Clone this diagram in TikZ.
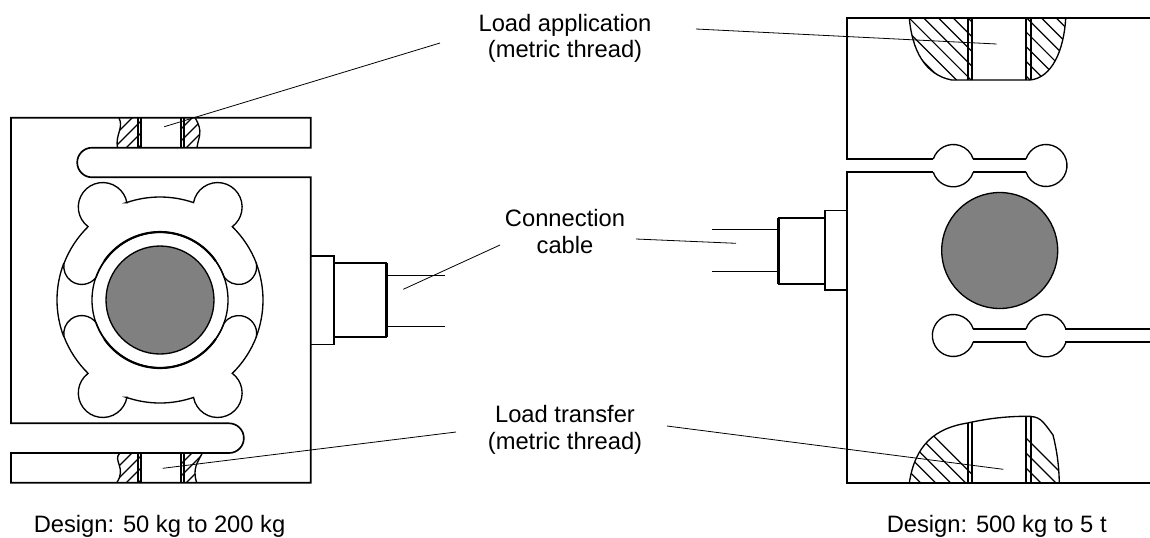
\documentclass[tikz,border=0pt]{standalone}
\usepackage{fontspec}
\setmainfont{Liberation Sans}
\tikzset{
	outline/.style={line width=1.25pt,line join=miter},
	thinline/.style={line width=1pt},
	hatchline/.style={line width=0.9pt},
	leader/.style={line width=0.6pt},
	caption/.style={align=center,inner sep=0pt,font=\fontsize{17.8}{20}\selectfont},
	core/.style={fill=black!50,draw=black,line width=1pt}
}
\begin{document}
\begin{tikzpicture}[x=0.75pt,y=-0.75pt]
	\useasboundingbox (0,0) rectangle (1150,537);

	% left body
	\draw[outline] (11,117.7) -- (310.7,117.7) -- (310.7,147.7) -- (92,147.7)
		arc (270:90:14.8) -- (310.7,177.3) -- (310.7,482.7) -- (11,482.7) -- (11,453)
		-- (229,453) arc (90:-90:14.85) -- (11,423.3) -- cycle;

	% left threads
	\begin{scope}
		\clip (119,117.7) .. controls (124,128) and (115,135) .. (117.5,147.7) -- (141.3,147.7) -- (141.3,117.7) -- cycle;
		\foreach \h in {100,112,...,190} \draw[hatchline] (\h,150) -- ++(40,-40);
	\end{scope}
	\begin{scope}
		\clip (195,117.7) .. controls (204,132) and (198,138) .. (197,147.7) -- (181,147.7) -- (181,117.7) -- cycle;
		\foreach \h in {148,160,...,220} \draw[hatchline] (\h,150) -- ++(40,-40);
	\end{scope}
	\begin{scope}
		\clip (120,453) .. controls (112,460) and (127,468) .. (116.7,482.7) -- (141.3,482.7) -- (141.3,453) -- cycle;
		\foreach \h in {100,112,...,190} \draw[hatchline] (\h,485) -- ++(40,-40);
	\end{scope}
	\begin{scope}
		\clip (202.3,453) .. controls (198,462) and (192,468) .. (196.7,482.7) -- (181,482.7) -- (181,453) -- cycle;
		\foreach \h in {148,160,...,220} \draw[hatchline] (\h,485) -- ++(40,-40);
	\end{scope}
	\draw[thinline] (119,117.7) .. controls (124,128) and (115,135) .. (117.5,147.7);
	\draw[thinline] (195,117.7) .. controls (204,132) and (198,138) .. (197,147.7);
	\draw[thinline] (120,453) .. controls (112,460) and (127,468) .. (116.7,482.7);
	\draw[thinline] (202.3,453) .. controls (198,462) and (192,468) .. (196.7,482.7);
	\foreach \p in {137.7,141.3,181,184.3} {
		\draw[outline] (\p,117.7) -- (\p,147.7);
		\draw[outline] (\p,453) -- (\p,482.7);
	}

	% left spring element
	\foreach \s in {1,-1} {
		\begin{scope}[shift={(160,300)},yscale=\s]
			\draw[thinline] (251:103) arc (251:289:103) arc (190.4:413.2:24.5) arc (314.4:339:103)
				arc (-10:144:18) arc (340:200:68) arc (36:190:18) arc (201:225.6:103)
				arc (126.8:349.6:24.5) -- cycle;
			\draw[line width=1.6pt] (215:68) arc (215:325:68);
		\end{scope}
	}
	\draw[thinline] (160,300) +(159:103) arc (159:201:103);
	\draw[thinline] (160,300) +(-21:103) arc (-21:21:103);
	\draw[thinline] (160,300) circle (68);
	\draw[core] (160,300) circle (54);

	% left connector
	\draw[thinline] (310.7,256) -- (334,256) -- (334,344.3) -- (310.7,344.3);
	\draw[outline] (334,263.3) -- (386.7,263.3);
	\draw[outline] (334,336.7) -- (386.7,336.7);
	\draw[line width=2pt] (386.7,263.3) -- (386.7,336.7);
	\draw[thinline] (386.7,275.3) -- (445,275.3);
	\draw[thinline] (386.7,326.7) -- (445,326.7);

	% right body
	\draw[outline] (1150,18) -- (846.7,18) -- (846.7,159) -- (933.3,159);
	\draw[outline] (973.3,159) -- (1026,159);
	\draw[outline] (933.3,172.3) -- (846.7,172.3) -- (846.7,483) -- (1150,483);
	\draw[outline] (973.3,172.3) -- (1026,172.3);
	\draw[thinline] (933.3,159) arc (198:342:21);
	\draw[thinline] (933.3,172.3) arc (162:18:21);
	\draw[thinline] (1026,159) arc (198:522:21);
	\draw[thinline] (973.3,329) arc (-18:-342:21);
	\draw[thinline] (1026,329) arc (198:342:21);
	\draw[thinline] (1026,342.3) arc (162:18:21);
	\draw[outline] (973.3,329) -- (1026,329);
	\draw[outline] (973.3,342.3) -- (1026,342.3);
	\draw[outline] (1065.4,329) -- (1150,329);
	\draw[outline] (1065.4,342.3) -- (1150,342.3);
	\draw[core] (999.7,250.5) circle (58);

	% right threads
	\begin{scope}
		\clip (909.3,18) .. controls (912,50) and (925,75) .. (951.7,80) -- (972.3,80) -- (972.3,18) -- cycle;
		\foreach \h in {847,861.7,...,980} \draw[hatchline] (\h,0) -- ++(100,100);
	\end{scope}
	\begin{scope}
		\clip (1026,18) -- (1026,80) -- (1030,80) .. controls (1052,78) and (1064,50) .. (1065.7,18) -- cycle;
		\foreach \h in {950,964.7,...,1060} \draw[hatchline] (\h,0) -- ++(100,100);
	\end{scope}
	\begin{scope}
		\clip (909.3,483) .. controls (915,445) and (935,428) .. (967.7,423) -- (972.3,422)
			-- (972.3,483) -- cycle;
		\foreach \h in {807.7,822.7,...,900} \draw[hatchline] (\h,400) -- ++(100,100);
	\end{scope}
	\begin{scope}
		\clip (1026,416.3) .. controls (1040,416) and (1042,420) .. (1053,435) .. controls (1058,455) and (1059,470) .. (1059.3,483) -- (1026,483) -- cycle;
		\foreach \h in {928,943,...,990} \draw[hatchline] (\h,400) -- ++(100,100);
	\end{scope}
	\draw[thinline] (909.3,18) .. controls (912,50) and (925,75) .. (951.7,80) -- (1030,80)
		.. controls (1052,78) and (1064,50) .. (1065.7,18);
	\draw[thinline] (909.3,483) .. controls (915,445) and (935,428) .. (967.7,423)
		.. controls (985,419) and (1005,416.3) .. (1026,416.3)
		.. controls (1040,416) and (1042,420) .. (1053,435)
		.. controls (1058,455) and (1059,470) .. (1059.3,483);
	\foreach \p in {967.7,972.3,1026,1031} {
		\draw[outline] (\p,18) -- (\p,80);
	}
	\draw[outline] (967.7,423) -- (967.7,483);
	\draw[outline] (972.3,422) -- (972.3,483);
	\draw[outline] (1026,416.3) -- (1026,483);
	\draw[outline] (1031,416.3) -- (1031,483);

	% right connector
	\draw[thinline] (846.7,210.7) -- (825,210.7) -- (825,290) -- (846.7,290);
	\draw[outline] (825,217.7) -- (778.3,217.7);
	\draw[outline] (825,284) -- (778.3,284);
	\draw[line width=2pt] (778.3,217.7) -- (778.3,284);
	\draw[thinline] (778.3,229.3) -- (712,229.3);
	\draw[thinline] (778.3,271.3) -- (712,271.3);

	% captions
	\node[caption] (LA) at (565,38.2) {Load application\\(metric thread)};
	\node[caption] (CC) at (565,231.4) {Connection\\cable};
	\node[caption] (LT) at (565,429.9) {Load transfer\\(metric thread)};
	\node[caption,anchor=base west] (DL) at (33.5,532.3) {Design: 50 kg to 200 kg};
	\node[caption,anchor=base west] (DR) at (886.5,532.3) {Design: 500 kg to 5 t};

	% leaders
	\coordinate (LA1) at (440,43);
	\coordinate (LA2) at (164.3,126.7);
	\coordinate (LA3) at (696,29);
	\coordinate (LA4) at (996.7,44);
	\coordinate (CC1) at (500,245);
	\coordinate (CC2) at (403.3,289.3);
	\coordinate (CC3) at (636,239);
	\coordinate (CC4) at (736,243.3);
	\coordinate (LT1) at (456,432);
	\coordinate (LT2) at (162.7,468.3);
	\coordinate (LT3) at (667,426);
	\coordinate (LT4) at (1003.3,469.3);
	\draw[leader] (LA1) -- (LA2);
	\draw[leader] (LA3) -- (LA4);
	\draw[leader] (CC1) -- (CC2);
	\draw[leader] (CC3) -- (CC4);
	\draw[leader] (LT1) -- (LT2);
	\draw[leader] (LT3) -- (LT4);
\end{tikzpicture}
\end{document}
